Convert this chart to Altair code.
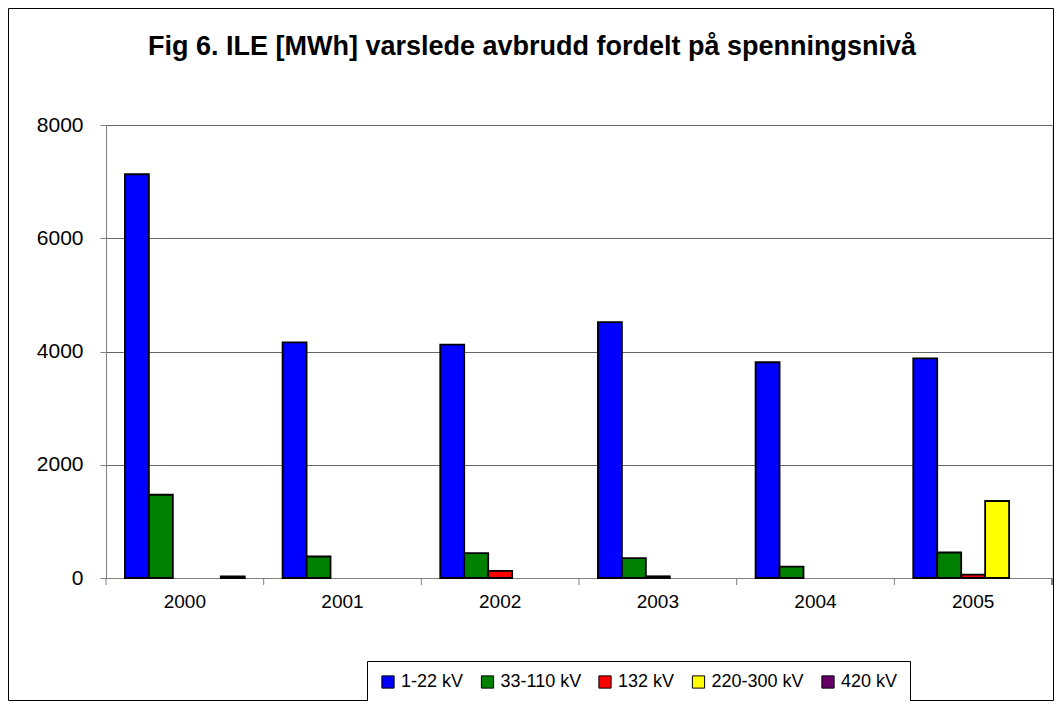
import altair as alt
import pandas as pd

years = ["2000", "2001", "2002", "2003", "2004", "2005"]
series = ["1-22 kV", "33-110 kV", "132 kV", "220-300 kV", "420 kV"]
v_1_22 = [7130, 4160, 4120, 4520, 3810, 3880]
v_33_110 = [1470, 380, 440, 350, 200, 450]
v_132 = [0, 0, 125, 30, 0, 60]
v_220_300 = [0, 0, 0, 0, 0, 1360]
v_420 = [30, 0, 0, 0, 0, 0]
colors = ["#0000FF", "#008000", "#FF0000", "#FFFF00", "#660066"]
y_ticks = [0, 2000, 4000, 6000, 8000]

rows = []
for s, vals in zip(series, [v_1_22, v_33_110, v_132, v_220_300, v_420]):
    for yr, v in zip(years, vals):
        rows.append({"year": yr, "series": s, "value": v})
df = pd.DataFrame(rows)

W, H = 946, 453
FONT = "Liberation Sans"

xscale = alt.Scale(domain=years, paddingInner=0, paddingOuter=0)

bars = alt.Chart(df).transform_filter("datum.value > 0").mark_bar(
    stroke="black", strokeWidth=1.8
).encode(
    x=alt.X("year:N", scale=xscale, sort=years, title=None,
            axis=alt.Axis(labelAngle=0, ticks=False, labelFontSize=19, labelFont=FONT,
                          labelColor="black", labelPadding=14, domainColor="#808080")),
    xOffset=alt.XOffset("series:N", sort=series,
                        scale=alt.Scale(domain=series, paddingInner=0, paddingOuter=0.79)),
    y=alt.Y("value:Q", scale=alt.Scale(domain=[0, 8000]), title=None,
            axis=alt.Axis(values=y_ticks, format="d", labelFontSize=21, labelFont=FONT,
                          labelColor="black", tickSize=6, tickColor="#808080",
                          domainColor="#808080", gridColor="#666666", gridWidth=1,
                          labelPadding=17)),
    color=alt.Color("series:N", sort=series,
                    scale=alt.Scale(domain=series, range=colors),
                    legend=alt.Legend(title=None, orient="none", legendX=261, legendY=536,
                                      direction="horizontal", columns=5,
                                      symbolType="square", symbolSize=150,
                                      symbolStrokeColor="black", symbolStrokeWidth=1,
                                      labelFontSize=18, labelFont=FONT, labelColor="black",
                                      strokeColor="black", fillColor="white",
                                      padding=12, columnPadding=14.5, labelOffset=4,
                                      labelLimit=300)),
)

ticks_df = pd.DataFrame({"year": years})
xticks = alt.Chart(ticks_df).mark_rule(color="#808080", strokeWidth=1).encode(
    x=alt.X("year:N", bandPosition=0, scale=xscale, sort=years),
    y=alt.value(H), y2=alt.value(H + 7),
)
endtick = alt.Chart(ticks_df).mark_rule(color="#808080", strokeWidth=1).encode(
    x=alt.value(W), y=alt.value(H), y2=alt.value(H + 7),
)

frame = alt.Chart(pd.DataFrame({"a": [0]})).mark_rect(
    fillOpacity=0, stroke="black", strokeWidth=1
).encode(
    x=alt.value(-97.5), x2=alt.value(W + 1.5), y=alt.value(-116.5), y2=alt.value(H + 122.5)
)

chart = alt.layer(bars, xticks, endtick, frame).properties(
    width=W, height=H,
    padding={"left": 98, "top": 117, "right": 2, "bottom": 123},
    autosize=alt.AutoSizeParams(type="none"),
    title=alt.TitleParams(
        "Fig 6. ILE [MWh] varslede avbrudd fordelt på spenningsnivå",
        font=FONT, fontSize=27, fontWeight="bold", color="black",
        anchor="middle", baseline="alphabetic", offset=0, dy=74, dx=-47,
    ),
).configure_view(
    fill="#C0C0C0", stroke="#808080", strokeWidth=1
).configure(background="white")

chart.save("out.html", embed_options={"renderer": "svg", "actions": False})
